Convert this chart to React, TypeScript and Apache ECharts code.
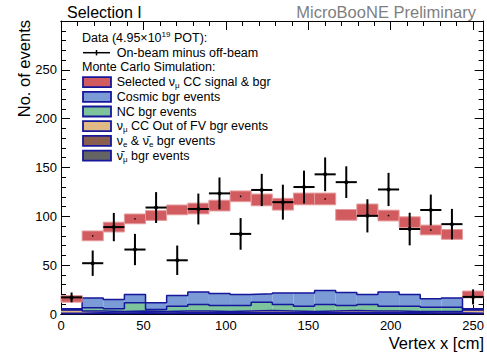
import React, { useEffect, useRef } from 'react';
import * as echarts from 'echarts';

const X_MAX = 256.35;
const N_BINS = 20;
const binEdges = Array.from({ length: N_BINS + 1 }, (_, i) => +((i * X_MAX) / N_BINS).toFixed(4));

// On-beam minus off-beam data
const dataValues = [17, 52, 89, 66, 109, 55, 107.5, 123.5, 82, 127, 114.5, 130, 143, 135, 100.5, 127.5, 87, 106.5, 92, 17.5];
const dataErrors = [5, 13, 14.5, 16, 15.8, 15.1, 15.8, 16.3, 16.2, 16.5, 17.9, 16.8, 17.3, 16.2, 17, 17, 16.7, 15.8, 15.6, 7.7];

// MC total (selected numu CC signal & bgr) band
const mcTotal = [15.5, 80, 89, 97.4, 100.8, 106.6, 108, 111, 120.5, 116.8, 112.4, 117.8, 117.8, 101.5, 106.6, 100.8, 94, 86, 81.5, 20];
const mcTotalErr = [3.4, 5, 5, 5, 5, 5, 5.5, 5.5, 5.5, 6, 6, 6, 6, 5.5, 6, 5.5, 5.5, 5, 5, 3.5];

// Stacked backgrounds (bottom to top)
const antiNumuBgr = [0.3, 0.5, 0.4, 0.5, 0.4, 0.5, 0.6, 0.5, 0.5, 0.6, 0.5, 0.6, 0.5, 0.6, 0.5, 0.5, 0.5, 0.4, 0.4, 0.3];
const nueBgr = [0.5, 0.7, 0.6, 0.8, 0.7, 0.8, 0.7, 0.8, 0.7, 0.8, 0.8, 0.7, 0.8, 0.7, 0.8, 0.7, 0.7, 0.6, 0.6, 0.5];
const outFVBgr = [3.2, 1.8, 1.5, 1.7, 1.4, 1.7, 1.7, 1.2, 1.8, 2.1, 1.7, 1.2, 1.7, 2.2, 1.7, 1.8, 1.3, 1.5, 1.5, 3.4];
const ncBgr = [0.5, 3.3, 2.8, 8.4, 2.1, 5, 6.7, 6.2, 5.7, 8.5, 6.7, 5.5, 6.7, 5.2, 6.7, 5, 5.5, 4.5, 4.5, 0.3];
const cosmicBgr = [1.0, 10.2, 9.5, 8.5, 6.8, 10.9, 12.9, 12.3, 11.3, 8.7, 11.9, 13.6, 14.3, 13.3, 10.3, 14.6, 12, 8.5, 9.5, 0.8];

const FONT = 'Liberation Sans, Arial, Helvetica, sans-serif';
const OUTLINE = '#17179c';
const C_RED = '#d25b5f';
const C_COSMIC = '#7a9bd6';
const C_NC = '#7dc39b';
const C_OUTFV = '#e1b984';
const C_NUE = '#8a5e4e';
const C_ANTI = '#646464';

const layers = [
  { name: 'antinumu', values: antiNumuBgr, color: C_ANTI },
  { name: 'nue', values: nueBgr, color: C_NUE },
  { name: 'outfv', values: outFVBgr, color: C_OUTFV },
  { name: 'nc', values: ncBgr, color: C_NC },
  { name: 'cosmic', values: cosmicBgr, color: C_COSMIC },
];

function buildOption() {
  const series: any[] = [];
  const cum = new Array(N_BINS).fill(0);
  const tops: number[][] = [];
  layers.forEach((layer) => {
    const items = layer.values.map((v, i) => {
      const lo = cum[i];
      const hi = cum[i] + v;
      cum[i] = hi;
      return [binEdges[i], binEdges[i + 1], lo, hi];
    });
    tops.push(cum.slice());
    series.push({
      type: 'custom',
      name: layer.name,
      silent: true,
      z: 2,
      encode: { x: [0, 1], y: [2, 3] },
      data: items,
      renderItem: (params: any, api: any) => {
        const p0 = api.coord([api.value(0), api.value(3)]);
        const p1 = api.coord([api.value(1), api.value(2)]);
        return {
          type: 'rect',
          shape: { x: p0[0], y: p0[1], width: p1[0] - p0[0], height: p1[1] - p0[1] },
          style: { fill: layer.color },
        };
      },
    });
  });
  tops.forEach((top, k) => {
    const pts = top.map((v, i) => [binEdges[i], v]);
    pts.push([binEdges[N_BINS], top[N_BINS - 1]]);
    series.push({
      type: 'line',
      name: 'outline' + k,
      step: 'end',
      silent: true,
      symbol: 'none',
      z: 3,
      lineStyle: { color: OUTLINE, width: 1.5 },
      data: pts,
    });
  });
  // MC total band
  series.push({
    type: 'custom',
    name: 'mcband',
    silent: true,
    z: 4,
    encode: { x: [0, 1], y: [2] },
    data: mcTotal.map((v, i) => [binEdges[i], binEdges[i + 1], v, mcTotalErr[i]]),
    renderItem: (params: any, api: any) => {
      const x0 = api.value(0), x1 = api.value(1), y = api.value(2), e = api.value(3);
      const p0 = api.coord([x0, y + e]);
      const p1 = api.coord([x1, y - e]);
      const pc = api.coord([(x0 + x1) / 2, y]);
      return {
        type: 'group',
        children: [
          {
            type: 'rect',
            shape: { x: p0[0], y: p0[1], width: p1[0] - p0[0], height: p1[1] - p0[1] },
            style: { fill: C_RED, stroke: '#e59a9c', lineWidth: 1 },
          },
          { type: 'circle', shape: { cx: pc[0], cy: pc[1], r: 0.8 }, style: { fill: '#000' } },
        ],
      };
    },
  });
  // Data points
  series.push({
    type: 'custom',
    name: 'data',
    silent: true,
    z: 5,
    encode: { x: [0, 1], y: [2] },
    data: dataValues.map((v, i) => [binEdges[i], binEdges[i + 1], v, dataErrors[i]]),
    renderItem: (params: any, api: any) => {
      const x0 = api.value(0), x1 = api.value(1), y = api.value(2), e = api.value(3);
      const xm = (x0 + x1) / 2;
      const pl = api.coord([x0, y]);
      const pr = api.coord([x1, y]);
      const pt = api.coord([xm, y + e]);
      const pb = api.coord([xm, y - e]);
      return {
        type: 'group',
        children: [
          { type: 'line', shape: { x1: pl[0], y1: pl[1], x2: pr[0], y2: pr[1] }, style: { stroke: '#000', lineWidth: 2 } },
          { type: 'line', shape: { x1: pt[0], y1: pt[1], x2: pb[0], y2: pb[1] }, style: { stroke: '#000', lineWidth: 2 } },
          { type: 'circle', shape: { cx: pt[0], cy: pl[1], r: 2 }, style: { fill: '#000' } },
        ],
      };
    },
  });

  const axisLine = { show: true, onZero: false, lineStyle: { color: '#000', width: 1 } };
  const xBase = { type: 'value', min: 0, max: X_MAX, axisLine, splitLine: { show: false } };
  const xAxis = [
    {
      ...xBase, position: 'bottom', interval: 50,
      axisTick: { show: true, inside: true, length: 9, lineStyle: { color: '#000' } },
      axisLabel: { show: true, fontSize: 13, color: '#000', fontFamily: FONT, margin: 5, showMaxLabel: false },
    },
    {
      ...xBase, position: 'bottom', interval: 10,
      axisTick: { show: true, inside: true, length: 5, lineStyle: { color: '#000' } },
      axisLabel: { show: false },
    },
    {
      ...xBase, position: 'top', interval: 50,
      axisTick: { show: true, inside: true, length: 9, lineStyle: { color: '#000' } },
      axisLabel: { show: false },
    },
    {
      ...xBase, position: 'top', interval: 10,
      axisTick: { show: true, inside: true, length: 5, lineStyle: { color: '#000' } },
      axisLabel: { show: false },
    },
  ];
  const yBase = {
    type: 'value', min: 0, max: 300, interval: 50, axisLine, splitLine: { show: false },
    axisTick: { show: true, inside: true, length: 9, lineStyle: { color: '#000' } },
    minorTick: { show: true, splitNumber: 5, length: 5, lineStyle: { color: '#000' } },
    minorSplitLine: { show: false },
  };
  const yAxis = [
    { ...yBase, position: 'left', axisLabel: { show: true, fontSize: 13, color: '#000', fontFamily: FONT, margin: 4, showMaxLabel: false } },
    { ...yBase, position: 'right', axisLabel: { show: false } },
  ];

  const txt = { fontFamily: FONT, fontSize: 12.5, fill: '#000' };
  const rich = {
    n: { fontFamily: FONT, fontSize: 12.5, fill: '#000', lineHeight: 15 },
    s: { fontFamily: FONT, fontSize: 8, fill: '#000', lineHeight: 9, verticalAlign: 'bottom' },
    sup: { fontFamily: FONT, fontSize: 8, fill: '#000', lineHeight: 9, verticalAlign: 'top' },
  };
  const legendRows: { y: number; text: string; color?: string }[] = [
    { y: 82.1, text: '{n|Selected ν}{s|μ}{n| CC signal & bgr}', color: C_RED },
    { y: 96.8, text: '{n|Cosmic bgr events}', color: C_COSMIC },
    { y: 111.5, text: '{n|NC bgr events}', color: C_NC },
    { y: 126.2, text: '{n|ν}{s|μ}{n| CC Out of FV bgr events}', color: C_OUTFV },
    { y: 140.9, text: '{n|ν}{s|e}{n| & ν̄}{s|e}{n| bgr events}', color: C_NUE },
    { y: 155.6, text: '{n|ν̄}{s|μ}{n| bgr events}', color: C_ANTI },
  ];
  const graphic: any[] = [
    { type: 'text', x: 67, y: 12, style: { text: 'Selection I', fontFamily: FONT, fontSize: 16, fill: '#000', verticalAlign: 'middle' } },
    { type: 'text', x: 476, y: 12, style: { text: 'MicroBooNE Preliminary', fontFamily: FONT, fontSize: 16.5, fill: '#7f7f7f', align: 'right', verticalAlign: 'middle' } },
    { type: 'text', x: 484, y: 343, style: { text: 'Vertex x [cm]', fontFamily: FONT, fontSize: 16.5, fill: '#000', align: 'right', verticalAlign: 'middle' } },
    { type: 'text', x: 24, y: 20, rotation: Math.PI / 2, style: { text: 'No. of events', fontFamily: FONT, fontSize: 16.5, fill: '#000', align: 'right', verticalAlign: 'middle' } },
    { type: 'text', x: 82, y: 38, style: { text: '{n|Data (4.95×10}{sup|19}{n| POT):}', rich, verticalAlign: 'middle' } },
    { type: 'line', shape: { x1: 83, y1: 52.7, x2: 110, y2: 52.7 }, style: { stroke: '#000', lineWidth: 1.5 } },
    { type: 'line', shape: { x1: 96.5, y1: 50, x2: 96.5, y2: 55.4 }, style: { stroke: '#000', lineWidth: 1.5 } },
    { type: 'text', x: 116.7, y: 52.7, style: { text: 'On-beam minus off-beam', ...txt, verticalAlign: 'middle' } },
    { type: 'text', x: 82, y: 67.4, style: { text: 'Monte Carlo Simulation:', ...txt, verticalAlign: 'middle' } },
  ];
  legendRows.forEach((r) => {
    graphic.push({ type: 'rect', shape: { x: 83, y: r.y - 5, width: 28, height: 10 }, style: { fill: r.color, stroke: OUTLINE, lineWidth: 1.8 } });
    graphic.push({ type: 'text', x: 116.7, y: r.y, style: { text: r.text, rich, verticalAlign: 'middle' } });
  });

  return {
    animation: false,
    backgroundColor: '#fff',
    grid: { left: 61, right: 3, top: 21, bottom: 42, containLabel: false },
    xAxis,
    yAxis,
    series,
    graphic,
  };
}

export default function App() {
  const ref = useRef<HTMLDivElement>(null);
  useEffect(() => {
    if (!ref.current) return;
    const chart = echarts.init(ref.current, undefined, { renderer: 'svg' });
    chart.setOption(buildOption() as any);
    return () => chart.dispose();
  }, []);
  return <div ref={ref} style={{ width: 487, height: 356, position: 'absolute', left: 0, top: 0 }} />;
}
